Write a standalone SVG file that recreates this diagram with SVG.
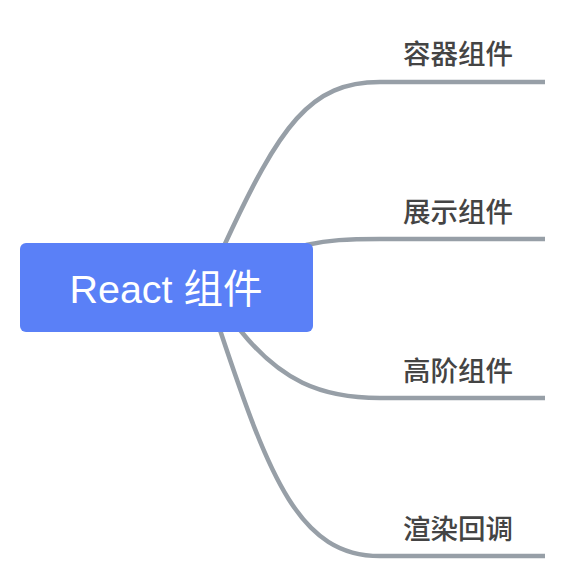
<svg xmlns="http://www.w3.org/2000/svg" width="567" height="579" viewBox="0 0 567 579">
<style>
.edge{fill:none;stroke:#979fa7;stroke-width:4.5;stroke-linecap:butt}
.lbl{font-family:"Noto Sans CJK SC","Noto Sans",sans-serif;font-size:27.5px;font-weight:500;fill:#444444}
.root{font-family:"Liberation Sans","Noto Sans CJK SC",sans-serif;font-size:39.5px;fill:#ffffff}
</style>
<rect width="567" height="579" fill="#ffffff"/>
<g id="connectors">
<path class="edge" d="M224 246 C 280 125, 310 82, 380 82 L545 82"/>
<path class="edge" d="M306 245 C 330 240, 345 239, 380 239 L545 239"/>
<path class="edge" d="M240 330 C 280 380, 320 398, 380 398 L545 398"/>
<path class="edge" d="M220 330 C 270 480, 300 556, 380 556 L545 556"/>
</g>
<g id="root">
<rect x="20" y="243" width="293" height="89" rx="6" fill="#5a80f7"/>
<text class="root" x="166" y="303" text-anchor="middle">React 组件</text>
</g>
<g id="n1"><text class="lbl" x="403" y="64">容器组件</text></g>
<g id="n2"><text class="lbl" x="403" y="222">展示组件</text></g>
<g id="n3"><text class="lbl" x="403" y="381">高阶组件</text></g>
<g id="n4"><text class="lbl" x="403" y="539">渲染回调</text></g>
</svg>
